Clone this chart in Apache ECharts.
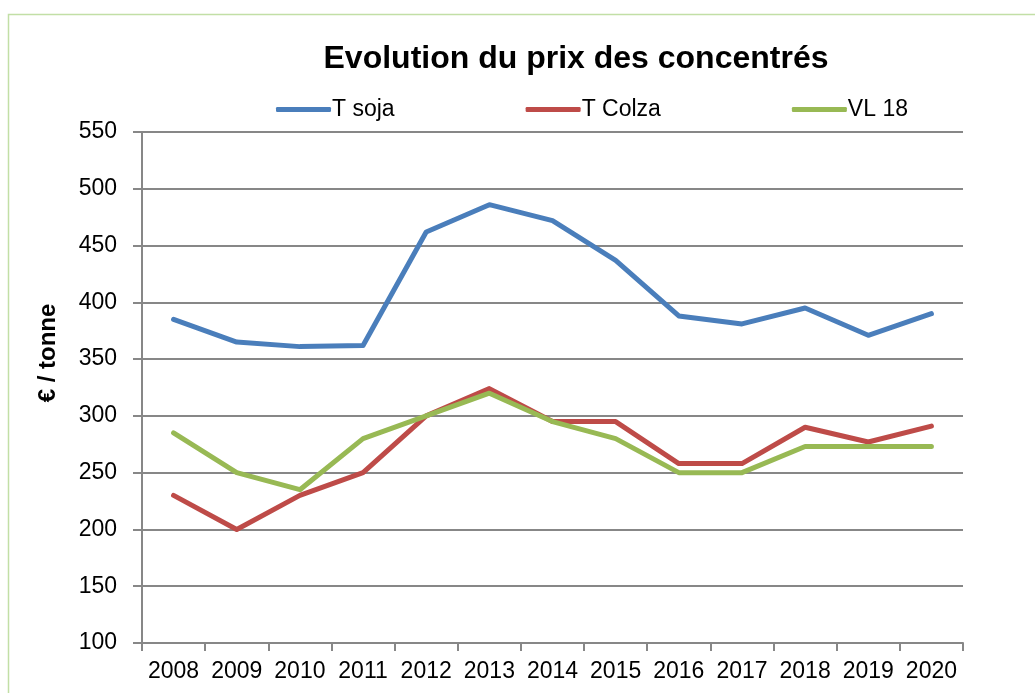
<!DOCTYPE html>
<html>
<head>
<meta charset="utf-8">
<script src="https://cdn.jsdelivr.net/npm/echarts@6/dist/echarts.min.js"></script>
<style>
  html, body { margin: 0; padding: 0; background: #fff; }
  #chart { width: 1035px; height: 693px; }
</style>
</head>
<body>
<div id="chart"></div>
<script>
const years = ['2008', '2009', '2010', '2011', '2012', '2013', '2014', '2015', '2016', '2017', '2018', '2019', '2020']
const tSoja = [385, 365, 361, 362, 462, 486, 472, 437, 388, 381, 395, 371, 390]
const tColza = [230, 200, 230, 250, 300, 324, 295, 295, 258, 258, 290, 277, 291]
const vl18 = [285, 250, 235, 280, 300, 320, 295, 280, 250, 250, 273, 273, 273]

const font = 'Liberation Sans'
const gridColor = '#878787'

const chart = echarts.init(document.getElementById('chart'))

const lineSeries = (name, data, color) => ({
  name,
  type: 'line',
  data,
  symbol: 'none',
  lineStyle: { color, width: 5, cap: 'round', join: 'round' },
  itemStyle: { color }
})

chart.setOption({
  animation: false,
  backgroundColor: '#fff',
  title: {
    text: 'Evolution du prix des concentrés',
    left: 571,
    top: 38,
    textAlign: 'center',
    textStyle: { fontFamily: font, fontSize: 32, fontWeight: 'bold', color: '#000' }
  },
  legend: {
    left: 271,
    top: 93,
    itemWidth: 55,
    itemHeight: 5,
    itemGap: 131,
    icon: 'roundRect',
    textStyle: { fontFamily: font, fontSize: 23, color: '#000', padding: [0, 0, 0, -4] },
    data: ['T soja', 'T Colza', 'VL 18']
  },
  grid: { left: 142, right: 72, top: 132, bottom: 50, containLabel: false },
  xAxis: {
    type: 'category',
    data: years,
    boundaryGap: true,
    axisLine: { lineStyle: { color: gridColor, width: 2 } },
    axisTick: { show: true, length: 8, lineStyle: { color: gridColor, width: 2 } },
    axisLabel: { fontFamily: font, fontSize: 23, color: '#000', margin: 17, interval: 0 }
  },
  yAxis: {
    type: 'value',
    min: 100,
    max: 550,
    interval: 50,
    axisLine: { show: true, lineStyle: { color: gridColor, width: 2 } },
    axisTick: { show: true, length: 9, lineStyle: { color: gridColor, width: 2 } },
    splitLine: { lineStyle: { color: gridColor, width: 2 } },
    axisLabel: { fontFamily: font, fontSize: 23, color: '#000', margin: 25 }
  },
  graphic: [
    {
      type: 'rect',
      shape: { x: 8.5, y: 14.5, width: 1100, height: 800 },
      style: { fill: 'none', stroke: '#c2dfa6', lineWidth: 1.5 },
      silent: true
    },
    {
      type: 'text',
      x: 48,
      y: 353,
      rotation: Math.PI / 2,
      style: {
        text: '€ / tonne',
        font: 'bold 24px "' + font + '"',
        fill: '#000',
        align: 'center',
        verticalAlign: 'middle'
      }
    }
  ],
  series: [
    lineSeries('T soja', tSoja, '#4a7ebb'),
    lineSeries('T Colza', tColza, '#be4b48'),
    lineSeries('VL 18', vl18, '#98b954')
  ]
})

window.addEventListener('resize', () => chart.resize())
</script>
</body>
</html>
